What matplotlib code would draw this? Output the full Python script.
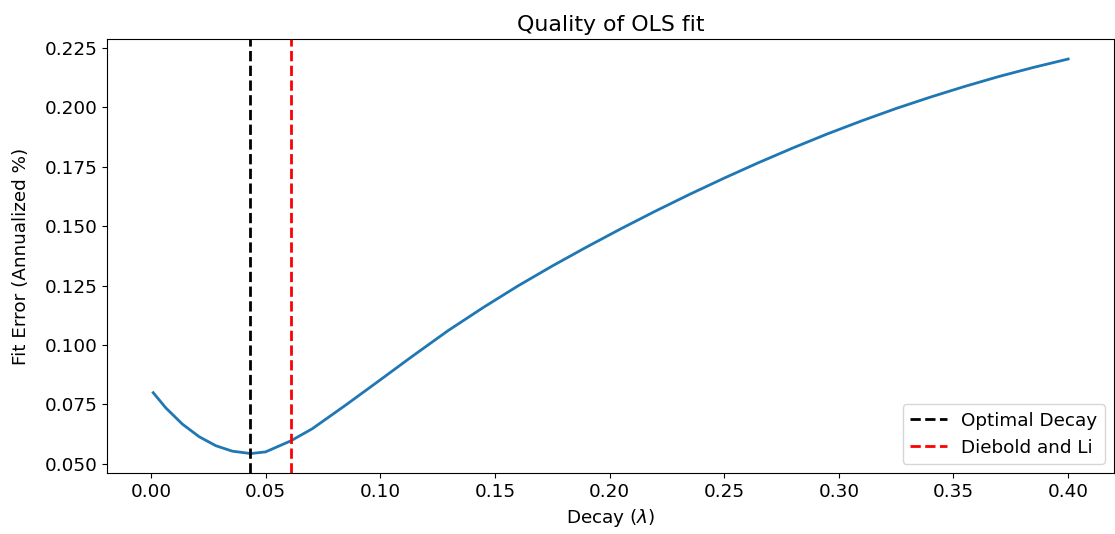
import numpy as np
import matplotlib as mpl
import matplotlib.pyplot as plt

mpl.rcParams["font.size"] = 13.2

# values
decay = [0.001, 0.0065, 0.0137, 0.021, 0.0283, 0.0355, 0.0435, 0.050, 0.0609,
         0.0703, 0.0848, 0.0993, 0.1138, 0.1297, 0.145, 0.16, 0.175, 0.19,
         0.205, 0.22, 0.235, 0.25, 0.265, 0.28, 0.295, 0.31, 0.325, 0.34,
         0.355, 0.37, 0.385, 0.40]
fit_error = [0.0799, 0.0735, 0.0667, 0.0614, 0.0576, 0.0553, 0.0543, 0.0550, 0.0596,
             0.0647, 0.0746, 0.0848, 0.0951, 0.1061, 0.1158, 0.1248, 0.1332, 0.1412,
             0.1489, 0.1563, 0.1634, 0.1702, 0.1767, 0.1829, 0.1888, 0.1943, 0.1995,
             0.2043, 0.2088, 0.2130, 0.2168, 0.2203]
optimal_decay = 0.0433
diebold_li = 0.0609

fig = plt.figure(figsize=(11.15, 5.34), dpi=100)
ax = fig.add_axes([0.0964, 0.1137, 0.9026, 0.8127])
ax.plot(decay, fit_error, color="tab:blue", lw=2)
ax.axvline(optimal_decay, color="k", ls="--", lw=2, label="Optimal Decay")
ax.axvline(diebold_li, color="r", ls="--", lw=2, label="Diebold and Li")
ax.set_title("Quality of OLS fit")
ax.set_xlabel(r"Decay ($\lambda$)")
ax.set_ylabel("Fit Error (Annualized %)", labelpad=11)
ax.set_xticks(np.arange(0, 0.41, 0.05))
ax.set_yticks(np.arange(0.05, 0.226, 0.025))
ax.legend(loc="lower right")

plt.savefig("out.png", dpi=100)
